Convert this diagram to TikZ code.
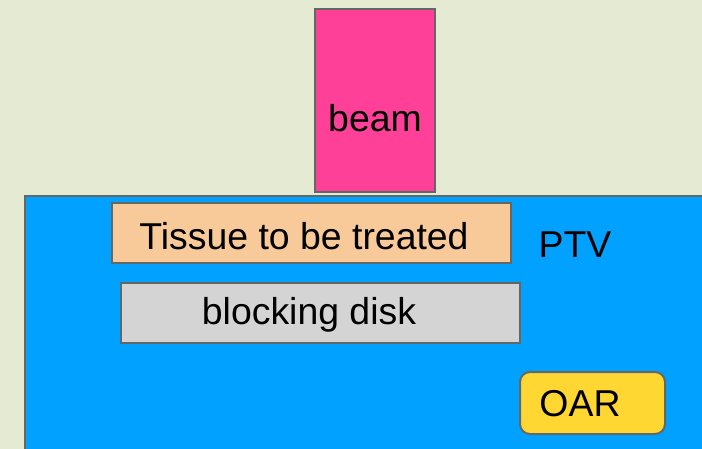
\documentclass[tikz,border=0pt]{standalone}
\usepackage{fontspec}
\setmainfont{Liberation Sans}
\usepackage{tikz}
\usetikzlibrary{positioning}

\definecolor{slidebg}{RGB}{229,235,211}
\definecolor{ptvblue}{RGB}{0,161,255}
\definecolor{beampink}{RGB}{255,64,152}
\definecolor{tissueorange}{RGB}{248,202,154}
\definecolor{diskgray}{RGB}{212,212,212}
\definecolor{oaryellow}{RGB}{255,215,50}
\definecolor{edgegray}{RGB}{100,104,100}

\tikzset{
	box/.style={draw=edgegray, line width=1pt, rectangle, inner sep=0pt},
	lbl/.style={font=\fontsize{18.7}{22}\selectfont, text=black, inner sep=0pt}
}

\begin{document}
\begin{tikzpicture}[x=0.5pt, y=-0.5pt]
	\useasboundingbox (0,0) rectangle (702,449);
	\clip (0,0) rectangle (702,449);
	\fill [slidebg] (0,0) rectangle (702,449);
	
	% cut off text at the left edge
	\node [lbl] (cut) at (-4,275) {)};
	
	% PTV region
	\draw [edgegray, line width=1pt, fill=ptvblue] (25,470) -- (25,196) -- (720,196) -- (720,470);
	\node [lbl] (ptv) at (575,245) {PTV};
	
	\node [box, fill=beampink, minimum width=60pt, minimum height=91.5pt] (beam) at (375,100.5) {};
	\node [lbl] (beamtext) at (375,118) {beam};
	
	\node [box, fill=tissueorange, minimum width=199.5pt, minimum height=30pt] (tissue) at (311.5,233) {};
	\node [lbl] (tissuetext) at (304,236) {Tissue to be treated};
	
	\node [box, fill=diskgray, minimum width=199.5pt, minimum height=30pt] (disk) at (320.5,313) {};
	\node [lbl] (disktext) at (309,315) {blocking disk};
	
	\node [box, fill=oaryellow, rounded corners=5pt, minimum width=72.5pt, minimum height=31pt] (oar) at (592.5,403) {};
	\node [lbl] (oartext) at (580,404) {OAR};
\end{tikzpicture}
\end{document}
